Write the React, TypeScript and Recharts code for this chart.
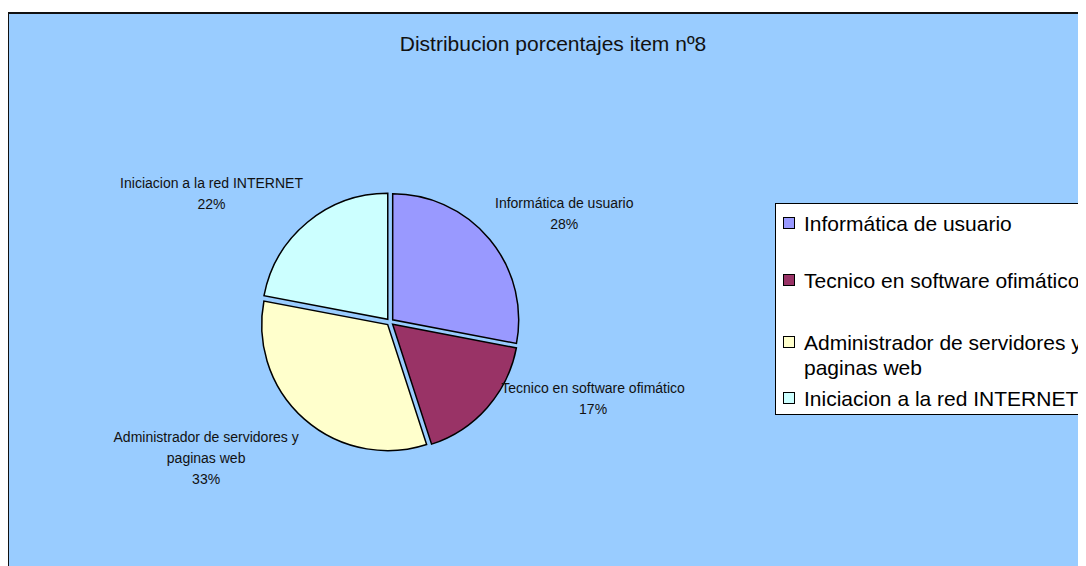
import { PieChart, Pie, Cell, Sector, Legend } from "recharts";

const categories = [
  "Informática de usuario",
  "Tecnico en software ofimático",
  "Administrador de servidores y paginas web",
  "Iniciacion a la red INTERNET",
];
const percentages = [28, 17, 33, 22];
const sliceColors = ["#9999FF", "#993366", "#FFFFCC", "#CCFFFF"];
const chartTitle = "Distribucion porcentajes item nº8";

const data = categories.map((name, i) => ({ name, value: percentages[i] }));

const FONT = "'Liberation Sans', Arial, sans-serif";
const RAD = Math.PI / 180;

// small per-label nudges, Excel doesn't place these purely radially
const labelNudge = [
  [1, -1],
  [10, -34],
  [-2, 3],
  [-1, -3],
];

let ctx: CanvasRenderingContext2D | null = null;
function textWidth(s: string, size: number) {
  if (!ctx) ctx = document.createElement("canvas").getContext("2d");
  if (!ctx) return s.length * size * 0.5;
  ctx.font = `${size}px ${FONT}`;
  return ctx.measureText(s).width;
}

function wrap(s: string, size: number, max: number) {
  const words = s.split(" ");
  const lines: string[] = [];
  let cur = "";
  for (const w of words) {
    const next = cur ? cur + " " + w : w;
    if (cur && textWidth(next, size) > max) {
      lines.push(cur);
      cur = w;
    } else {
      cur = next;
    }
  }
  if (cur) lines.push(cur);
  return lines;
}

function explodedSlice(props: any) {
  const { cx, cy, midAngle } = props;
  const d = 3.5;
  const dx = d * Math.cos(-midAngle * RAD);
  const dy = d * Math.sin(-midAngle * RAD);
  return <Sector {...props} cx={cx + dx} cy={cy + dy} />;
}

function renderLabel(props: any) {
  const { cx, cy, midAngle, outerRadius, percent, name, index } = props;
  const size = 14;
  const lineH = 21;
  const lines = [...wrap(name, size, 225), `${Math.round(percent * 100)}%`];
  const maxW = Math.max(...lines.map((l) => textWidth(l, size)));
  const cos = Math.cos(-midAngle * RAD);
  const sin = Math.sin(-midAngle * RAD);
  const R = outerRadius + 9;
  const ax = cx + R * cos;
  const ay = cy + R * sin;
  const halfH = (lines.length * lineH) / 2;
  const x = ax + Math.sign(cos) * (maxW / 2) + labelNudge[index][0];
  const y = ay + Math.sign(sin) * halfH + labelNudge[index][1];
  const top = y - halfH;
  return (
    <text
      key={`lbl-${index}`}
      textAnchor="middle"
      fontFamily={FONT}
      fontSize={size}
      fill="#111"
    >
      {lines.map((l, i) => (
        <tspan key={i} x={x} y={top + lineH * (i + 0.5)} dominantBaseline="central">
          {l}
        </tspan>
      ))}
    </text>
  );
}

const legendTops = [7, 64, 126, 182];

function LegendBox() {
  return (
    <div
      style={{
        position: "relative",
        width: 330,
        height: 212,
        background: "#fff",
        border: "1px solid #000",
        boxSizing: "border-box",
        fontFamily: FONT,
        fontSize: 21,
        color: "#000",
      }}
    >
      {categories.map((name, i) => (
        <div
          key={name}
          style={{
            position: "absolute",
            left: 7,
            top: legendTops[i],
            display: "flex",
            alignItems: "flex-start",
            lineHeight: "25px",
          }}
        >
          <span
            style={{
              width: 10,
              height: 10,
              marginTop: 6,
              border: "1px solid #000",
              background: sliceColors[i],
              flex: "none",
            }}
          />
          <span style={{ marginLeft: 9, width: 295, textAlign: "left", whiteSpace: "normal" }}>
            {name}
          </span>
        </div>
      ))}
    </div>
  );
}

export default function App() {
  return (
    <div
      style={{
        marginTop: 4,
        marginLeft: -1,
        width: 1079,
        height: 554,
        overflow: "hidden",
        position: "relative",
      }}
    >
      <div
        style={{
          position: "absolute",
          left: 0,
          top: 0,
          width: 1110,
          height: 580,
          background: "#99CCFF",
          border: "2px solid #111",
          boxSizing: "border-box",
        }}
      >
        <div
          style={{
            position: "absolute",
            left: 0,
            width: 1088,
            top: 18,
            textAlign: "center",
            fontFamily: FONT,
            fontSize: 21,
            color: "#111",
          }}
        >
          {chartTitle}
        </div>
        <div style={{ position: "absolute", left: 0, top: 0 }}>
          <PieChart width={1100} height={570}>
            <Pie
              data={data}
              dataKey="value"
              nameKey="name"
              cx={376}
              cy={303}
              outerRadius={126}
              startAngle={90}
              endAngle={-270}
              stroke="#000"
              strokeWidth={1.5}
              label={renderLabel}
              labelLine={false}
              shape={explodedSlice}
              isAnimationActive={false}
            >
              {data.map((d, i) => (
                <Cell key={d.name} fill={sliceColors[i]} />
              ))}
            </Pie>
            <Legend
              layout="vertical"
              content={LegendBox}
              wrapperStyle={{ left: 766, top: 189, width: 330, height: 212 }}
            />
          </PieChart>
        </div>
      </div>
    </div>
  );
}
